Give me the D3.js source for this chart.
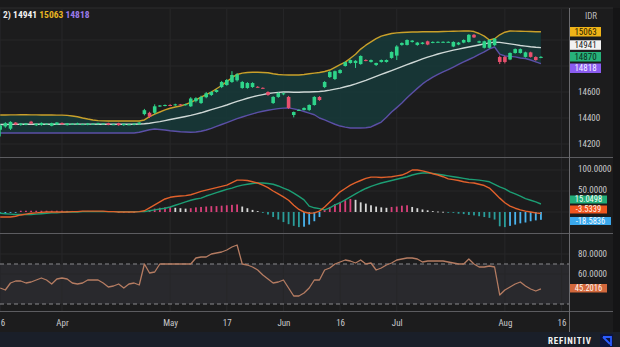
<!DOCTYPE html>
<html><head><meta charset="utf-8">
<script src="https://cdnjs.cloudflare.com/ajax/libs/d3/7.8.5/d3.min.js"></script>
<style>
html,body{margin:0;padding:0;background:#1c1c1d;}
svg{display:block;}
text{font-family:"Liberation Sans Narrow","Roboto Condensed","Liberation Sans",Arial,sans-serif;}
</style></head>
<body>
<svg id="chart" width="620" height="347"></svg>
<script>
// ---------- DATA (USD/IDR daily, trading-day index 0 = 16 Mar) ----------
const xTickIdx    = [0, 12, 33, 44, 55, 66, 77, 98, 109];
const xTickLabels = ["16", "Apr", "May", "17", "Jun", "16", "Jul", "Aug", "16"];

const open  = [14310,14335,14318,14365,14346,14348,14372,14344,14346,14355,14340,14350,14362,14345,14354,14350,14352,14348,14355,14352,14356,14360,14350,14360,14345,14350,14348,14352,14430,14440,14440,14492,14496,14500,14498,14505,14500,14490,14530,14515,14560,14577,14600,14638,14654,14677,14690,14631,14631,14638,14640,14632,14600,14515,14562,14582,14562,14423,14462,14462,14462,14500,14562,14638,14715,14700,14746,14800,14823,14823,14815,14846,14831,14808,14831,14831,14862,14880,14962,14962,14985,14962,14970,14990,14980,14984,14984,14984,14950,14965,14980,14985,15040,14980,14940,14940,14960,14869,14869,14850,14900,14900,14870,14905,14869,14865];
const high  = [14352,14368,14375,14368,14362,14362,14378,14360,14366,14360,14364,14368,14366,14362,14360,14364,14358,14362,14360,14364,14360,14364,14356,14364,14358,14356,14360,14368,14470,14448,14505,14500,14504,14506,14510,14508,14510,14560,14560,14572,14600,14608,14620,14685,14700,14760,14745,14685,14676,14675,14645,14636,14606,14568,14598,14595,14570,14450,14466,14482,14505,14568,14568,14684,14760,14765,14776,14835,14850,14845,14882,14852,14850,14826,14850,14850,14912,14960,14982,15005,15000,14985,14984,14995,14990,14990,14990,14990,14990,14985,15005,15045,15046,14995,14995,15005,15015,14880,14878,14905,14935,14935,14910,14910,14875,14876];
const low   = [14258,14325,14308,14345,14340,14344,14352,14338,14340,14350,14336,14346,14348,14342,14350,14346,14348,14344,14350,14348,14352,14344,14346,14340,14340,14346,14344,14348,14420,14400,14430,14485,14490,14492,14494,14496,14496,14485,14520,14508,14552,14570,14595,14630,14648,14670,14680,14625,14625,14632,14634,14626,14570,14508,14555,14575,14470,14405,14456,14458,14455,14495,14532,14630,14708,14692,14740,14795,14818,14785,14810,14836,14826,14800,14826,14826,14856,14846,14956,14958,14980,14956,14966,14960,14975,14980,14980,14980,14945,14960,14975,14980,15015,14975,14935,14935,14955,14815,14820,14845,14895,14895,14865,14865,14840,14860];
const close = [14342,14360,14370,14350,14356,14358,14358,14356,14362,14356,14360,14365,14352,14358,14356,14360,14353,14358,14356,14360,14357,14348,14352,14345,14355,14351,14356,14365,14460,14410,14490,14496,14500,14498,14505,14500,14506,14550,14552,14562,14590,14600,14615,14677,14692,14731,14735,14677,14669,14669,14638,14631,14577,14562,14592,14590,14477,14446,14462,14477,14500,14562,14538,14677,14754,14760,14769,14830,14846,14840,14877,14840,14846,14823,14846,14846,14908,14950,14977,15000,14995,14980,14980,14965,14985,14986,14986,14986,14985,14980,15000,15040,15020,14990,14990,15000,15010,14831,14831,14900,14930,14930,14905,14870,14846,14870];

const bbUpper = [14423,14423,14424,14424,14425,14425,14424,14424,14423,14423,14423,14422,14422,14420,14415,14410,14400,14392,14385,14380,14378,14377,14377,14377,14377,14377,14377,14377,14385,14410,14430,14446,14462,14475,14485,14492,14505,14520,14540,14560,14580,14600,14625,14650,14680,14710,14735,14745,14750,14752,14752,14750,14748,14740,14735,14732,14731,14731,14731,14735,14740,14745,14750,14758,14769,14790,14810,14830,14860,14890,14930,14960,14985,15010,15030,15040,15050,15055,15058,15060,15062,15062,15063,15063,15064,15064,15065,15066,15067,15068,15069,15070,15065,15050,15030,15000,15010,15040,15060,15069,15068,15067,15066,15065,15064,15063];
const bbMiddle = [14350,14350,14351,14351,14352,14352,14352,14352,14352,14352,14352,14352,14353,14353,14353,14353,14353,14353,14353,14352,14352,14352,14352,14352,14352,14352,14352,14354,14356,14360,14366,14372,14380,14388,14396,14404,14412,14420,14430,14440,14452,14464,14476,14488,14500,14514,14528,14540,14552,14562,14572,14580,14588,14593,14597,14600,14600,14598,14598,14600,14600,14602,14604,14608,14614,14622,14630,14640,14650,14662,14676,14690,14705,14720,14735,14750,14765,14780,14795,14810,14825,14840,14855,14868,14880,14892,14903,14913,14922,14930,14938,14946,14954,14962,14970,14978,14984,14982,14976,14970,14964,14958,14953,14948,14944,14941];
const bbLower  = [14285,14285,14285,14285,14285,14285,14285,14285,14285,14285,14285,14285,14285,14285,14285,14285,14285,14285,14285,14285,14285,14285,14285,14285,14285,14285,14285,14290,14300,14310,14315,14312,14308,14302,14298,14294,14292,14290,14292,14298,14308,14320,14335,14350,14365,14380,14395,14408,14420,14432,14443,14452,14460,14466,14472,14476,14478,14470,14462,14450,14438,14425,14400,14385,14369,14352,14338,14330,14323,14323,14323,14325,14331,14350,14369,14405,14446,14480,14515,14555,14592,14628,14662,14690,14715,14735,14754,14773,14792,14812,14831,14850,14869,14890,14908,14931,14946,14892,14877,14874,14870,14862,14858,14846,14832,14818];

const macdLine = [-12,-12,-12,-10,-7,-5,-3,-2,-1,0,0,0,0,0,1,1,2,2,2,2,2,1,1,0,0,0,0,1,3,10,17,24,31,35,37,38,39,41,45,49,52,55,58,61,64,70,76,76,75,72,69,64,58,50,43,36,28,16,6,0,-3,-2,2,12,24,36,48,56,64,70,75,80,83,83,82,83,84,86,88,93,100,100,98,95,91,88,84,79,77,75,72,70,69,66,63,57,45,33,22,14,9,5,2,0,-2,-3.5339];
const signalLine = [-3,-4,-5,-6,-6,-6,-6,-5,-4,-3,-2,-2,-1,0,0,0,1,1,1,1,1,1,1,1,1,1,1,1,1,3,5,7,9,12,16,20,24,28,31,33,38,42,46,50,54,57,61,64,66,68,69,69,68,66,62,57,52,45,37,29,14,10,8,5,10,17,22,29,36,43,50,56,61,65,69,72,75,78,81,84,88,91,93,93,92,90,88,86,84,82,80,78,77,76,74,72,66,60,55,48,43,38,32,28,24,19,15.0498];
const macdHist = [-4,-3,-2,-1,3,3,3,3,3,3,3,3,3,2.5,2.5,2.5,2.5,2.5,2.5,2,2,2,2,-2,-2,-2,-2,2,3,5,8,10,11,12,10,9,8,9,11,12,13,14,14,15,16,17,18,13,9,5,2,-2,-6,-12,-18,-24,-29,-33,-36,-35,-30,-22,-12,5,12,19,24,28,31,29,23,20,16,13,11,10,12,13,15,16,12,9,6,4,2,1,0.5,-1,-2,-4,-5,-7,-8,-10,-12,-14,-18,-34,-36,-33,-30,-27,-25,-22,-20,-18.5836];

const rsiLine = [46,44,51,53,53,51,52,54,56,54,50,55,56,55,51,50,51,54,54,54,51,47,48,50,46,50,51,49,70,61,62,70,70,70,70,70,70,70,76,77,77,80,81,82,84,87,89,70,69,67,64,59,55,51,52,54,46,38,38,41,46,54,54,64,66,70,72,74,73,71,74,70,71,64,66,69,71,74,75,76,76,75,72,73,73,73,73,72,71,70,70,75,70,67,67,68,67,39,44,47,50,52,48,45,43,45.2016];

const priceTicks = [14200, 14400, 14600];
const macdTicks  = [100, 50];
const rsiTicks   = [80, 60];
const rsiBands   = [70, 30];
const legendVals = ["14941", "15063", "14818"];
const mainTags = [
  {t:"15063", bg:"#f0b418", fg:"#2a2000", y0:27, h:9.5},
  {t:"14941", bg:"#f2f2f2", fg:"#222", y0:40.3, h:9.5},
  {t:"14870", bg:"#27b27a", fg:"#0d2a1c", y0:52, h:9.5},
  {t:"14818", bg:"#8a5cf0", fg:"#f4efff", y0:63.5, h:9.5}
];
const macdTags = [
  {t:"15.0498", bg:"#22ad78", fg:"#f2fff8", y0:195.5, h:8},
  {t:"-3.5339", bg:"#f0551e", fg:"#fff1ea", y0:205.5, h:8},
  {t:"-18.5836", bg:"#3aa8ec", fg:"#f2faff", y0:217, h:8}
];
const rsiTag = {t:"45.2016", bg:"#d2683c", fg:"#fff3ec", y0:284, h:8.5};

// ---------- LAYOUT ----------
const svg = d3.select("#chart");
const W = 620, H = 347, plotR = 569, axR = 613;
const mainTop = 8, mainBot = 157, macdBot = 233, rsiBot = 311, axBot = 332;

svg.append("rect").attr("width",W).attr("height",H).attr("fill","#1c1c1d");
svg.append("rect").attr("x",axR).attr("y",0).attr("width",W-axR).attr("height",H).attr("fill","#151516");
svg.append("rect").attr("x",0).attr("y",axBot).attr("width",W).attr("height",H-axBot).attr("fill","#1a1f29");
svg.append("rect").attr("x",0).attr("y",0).attr("width",W).attr("height",mainTop).attr("fill","#1a1a1b");
svg.append("line").attr("x1",0).attr("x2",axR).attr("y1",mainTop).attr("y2",mainTop).attr("stroke","#2c2c2e");

const x = d3.scaleLinear().domain([0, 110.45]).range([0.2, plotR]);
const yMain = d3.scaleLinear().domain([14200, 15000]).range([144, 40]);
const yMacd = d3.scaleLinear().domain([0, 100]).range([212, 170]);
const yRsi  = d3.scaleLinear().domain([30, 80]).range([304, 254]);

const defs = svg.append("defs");
function clip(id, y0, y1){
  defs.append("clipPath").attr("id",id).append("rect").attr("x",0).attr("y",y0).attr("width",plotR).attr("height",y1-y0);
  return svg.append("g").attr("clip-path",`url(#${id})`);
}
const gMain = clip("cMain", mainTop+1, mainBot);
const gMacd = clip("cMacd", mainBot+1, macdBot);
const gRsi  = clip("cRsi", macdBot+1, rsiBot);

// RSI shaded zone
gRsi.append("rect").attr("x",0).attr("width",plotR)
  .attr("y", yRsi(rsiBands[0])).attr("height", yRsi(rsiBands[1]) - yRsi(rsiBands[0]))
  .attr("fill","#29292d");

// grid
const gridC = "#272729";
[gMain,gMacd,gRsi].forEach(g=>{
  g.selectAll(".vg").data(xTickIdx).enter().append("line")
    .attr("x1",d=>x(d)).attr("x2",d=>x(d)).attr("y1",0).attr("y2",H).attr("stroke",gridC).attr("stroke-width",1);
});
gMain.selectAll(".hg").data([14200,14400,14600,14800,15000]).enter().append("line")
  .attr("x1",0).attr("x2",plotR).attr("y1",d=>yMain(d)).attr("y2",d=>yMain(d)).attr("stroke",gridC);
gMacd.selectAll(".hg").data(macdTicks.concat([0])).enter().append("line")
  .attr("x1",0).attr("x2",plotR).attr("y1",d=>yMacd(d)).attr("y2",d=>yMacd(d)).attr("stroke",gridC);
gRsi.selectAll(".hg").data(rsiTicks).enter().append("line")
  .attr("x1",0).attr("x2",plotR).attr("y1",d=>yRsi(d)).attr("y2",d=>yRsi(d)).attr("stroke",gridC);

// Bollinger fill
const idx = d3.range(close.length);
gMain.append("path").datum(idx)
  .attr("d", d3.area().x(i=>x(i)).y0(i=>yMain(bbLower[i])).y1(i=>yMain(bbUpper[i])))
  .attr("fill","#16393a").attr("fill-opacity",0.85);
function line(g, arr, yS, color, w){
  g.append("path").datum(idx)
    .attr("d", d3.line().x(i=>x(i)).y(i=>yS(arr[i])))
    .attr("fill","none").attr("stroke",color).attr("stroke-width",w).attr("stroke-linejoin","round");
}
line(gMain, bbUpper, yMain, "#c9a02a", 1.4);
line(gMain, bbLower, yMain, "#5b4fa6", 1.4);
line(gMain, bbMiddle, yMain, "#cfd8d6", 1.4);

// candles
const up = "#2fd48a", dn = "#e8506e";
const cg = gMain.selectAll(".c").data(idx).enter().append("g");
cg.append("line").attr("x1",i=>x(i)).attr("x2",i=>x(i))
  .attr("y1",i=>yMain(high[i])).attr("y2",i=>yMain(low[i]))
  .attr("stroke",i=>close[i]>=open[i]?up:dn).attr("stroke-width",1);
cg.append("rect").attr("x",i=>x(i)-1.8).attr("width",3.6)
  .attr("y",i=>yMain(Math.max(open[i],close[i])))
  .attr("height",i=>Math.max(1,Math.abs(yMain(open[i])-yMain(close[i]))))
  .attr("fill",i=>close[i]>=open[i]?up:dn);

// MACD histogram
function histColor(i){
  const v = macdHist[i], p = i>0 ? macdHist[i-1] : 0;
  if (v >= 0) return v >= p ? "#d9407a" : "#d8d8d8";
  return v <= p ? "#2a9d9a" : "#4ab4ee";
}
gMacd.selectAll(".h").data(idx).enter().append("rect")
  .attr("x",i=>x(i)-0.9).attr("width",1.8)
  .attr("y",i=>Math.min(yMacd(0), yMacd(macdHist[i])))
  .attr("height",i=>Math.max(0.8, Math.abs(yMacd(macdHist[i])-yMacd(0))))
  .attr("fill",histColor);
line(gMacd, signalLine, yMacd, "#1c9e74", 1.4);
line(gMacd, macdLine, yMacd, "#e2612b", 1.4);

// RSI
gRsi.selectAll(".rb").data(rsiBands).enter().append("line")
  .attr("x1",0).attr("x2",plotR).attr("y1",d=>yRsi(d)).attr("y2",d=>yRsi(d))
  .attr("stroke","#8a8a8e").attr("stroke-dasharray","4,3").attr("stroke-width",1);
line(gRsi, rsiLine, yRsi, "#b57c62", 1.3);

// separators
svg.selectAll(".sep").data([mainBot, macdBot, rsiBot]).enter().append("line")
  .attr("x1",0).attr("x2",axR).attr("y1",d=>d+0.5).attr("y2",d=>d+0.5)
  .attr("stroke","#5c5c60").attr("stroke-width",1.2);
svg.append("line").attr("x1",plotR+0.5).attr("x2",plotR+0.5).attr("y1",mainTop).attr("y2",axBot)
  .attr("stroke","#6a6a6e").attr("stroke-width",1);

// axes
function styleAxis(g){
  g.select(".domain").remove();
  g.selectAll("text").attr("fill","#c9c9cc").attr("font-size","9px");
}
svg.append("g").attr("transform",`translate(${plotR+6},0)`)
  .call(d3.axisRight(yMain).tickValues(priceTicks).tickSize(0).tickFormat(d3.format("d")))
  .call(styleAxis);
svg.append("g").attr("transform",`translate(${plotR+6},-1)`)
  .call(d3.axisRight(yMacd).tickValues(macdTicks).tickSize(0).tickFormat(d3.format(".4f")))
  .call(styleAxis);
svg.append("g").attr("transform",`translate(${plotR+6},0)`)
  .call(d3.axisRight(yRsi).tickValues(rsiTicks).tickSize(0).tickFormat(d3.format(".4f")))
  .call(styleAxis);
svg.append("g").attr("transform",`translate(0,${rsiBot+6})`)
  .call(d3.axisBottom(x).tickValues(xTickIdx).tickSize(0).tickFormat((d,k)=>xTickLabels[k]))
  .call(styleAxis);

// IDR label
svg.append("text").attr("x",591).attr("y",19).attr("text-anchor","middle")
  .attr("fill","#b8b8bc").attr("font-size","9px").text("IDR");

// tags
function tag(t, w, fs){
  svg.append("rect").attr("x",plotR+1).attr("y",t.y0).attr("width",w).attr("height",t.h).attr("fill",t.bg);
  svg.append("text").attr("x",plotR+1+w/2).attr("y",t.y0+t.h/2).attr("dy","0.35em").attr("text-anchor","middle")
    .attr("fill",t.fg).attr("font-size",fs).text(t.t);
}
mainTags.forEach(t=>tag(t,31,"9px"));
macdTags.forEach(t=>tag(t, t.t.length>7 ? 41 : 37, "8.5px"));
tag(rsiTag, 37, "8.5px");

// legend
const lg = svg.append("text").attr("x",3).attr("y",18).attr("font-size","9.5px").attr("font-weight","bold");
lg.append("tspan").attr("fill","#e8e8e8").text("2)  ");
lg.append("tspan").attr("fill","#f2f2f2").text(legendVals[0] + "  ");
lg.append("tspan").attr("fill","#e6b422").text(legendVals[1] + "  ");
lg.append("tspan").attr("fill","#9a7ae8").text(legendVals[2]);

// footer brand
svg.append("text").attr("x",548).attr("y",343.5).attr("fill","#f2f2f2").attr("font-size","9px")
  .attr("font-weight","bold").attr("letter-spacing","0.8px").text("REFINITIV");
svg.append("path").attr("d","M600,334 L613,334 L613,347 L600,347 Z").attr("fill","#0c1440");
svg.append("path").attr("d","M603,337 L611,337 L611,346 M603,337 L610,344")
  .attr("fill","none").attr("stroke","#2a5cff").attr("stroke-width",1.8);
</script>
</body></html>
